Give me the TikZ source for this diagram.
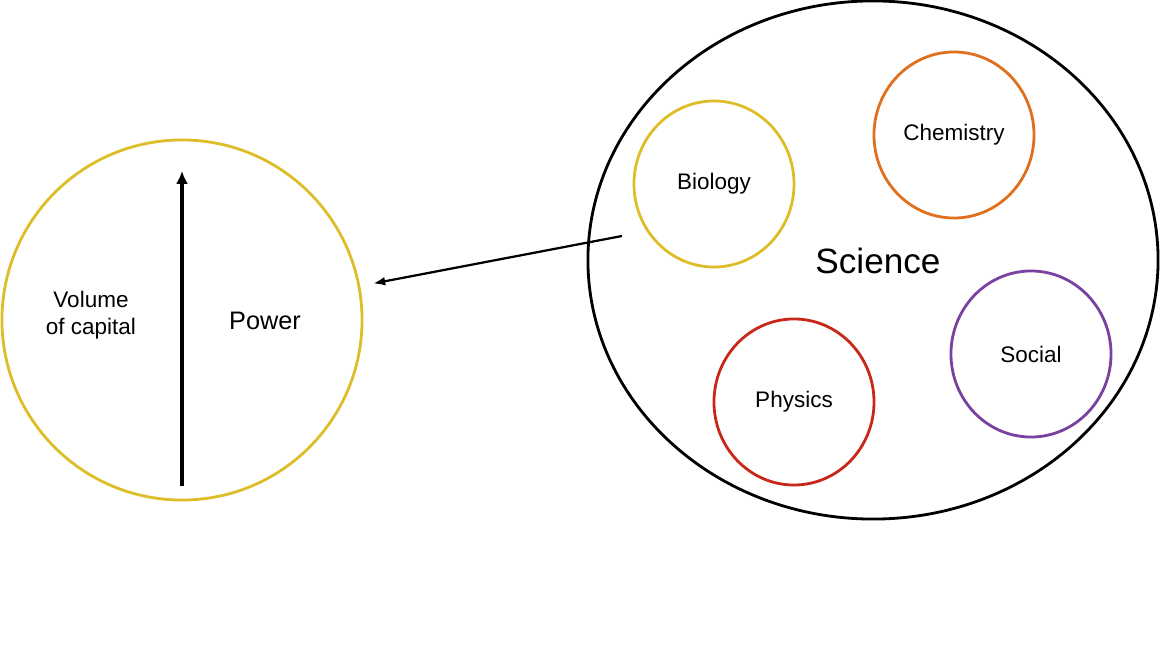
\documentclass[tikz,border=0pt]{standalone}
\usepackage{fontspec}
\setmainfont{Liberation Sans}
\usetikzlibrary{arrows.meta,shapes.geometric}
\definecolor{capyellow}{RGB}{221,189,42}
\definecolor{chemorange}{RGB}{224,112,30}
\definecolor{physred}{RGB}{200,40,26}
\definecolor{socpurple}{RGB}{122,66,160}

\begin{document}
\begin{tikzpicture}[
  x=0.025cm, y=-0.025cm,
  font=\fontsize{16}{19}\selectfont,
  field/.style={draw, ellipse, line width=2pt, minimum width=4cm, minimum height=4.15cm, inner sep=0pt},
  ar/.style={-{Latex[length=3mm,width=2.2mm]}, line width=1.6pt},
  axis/.style={-{Latex[length=3.2mm,width=3mm]}, line width=3pt}
]
\useasboundingbox (0,0) rectangle (1160,648);

\node[draw=capyellow, circle, line width=2pt, minimum size=9cm, inner sep=0pt] (cap) at (182,320) {};
\node[draw, ellipse, line width=2pt, minimum width=14.25cm, minimum height=12.95cm,
      inner sep=0pt, font=\fontsize{25}{30}\selectfont] (sci) at (873,260) {};
\node[font=\fontsize{25}{30}\selectfont] (scil) at (878,261) {Science};

\node[field, draw=capyellow]  (bio)  at (714,184) {Biology};
\node[field, draw=chemorange] (chem) at (954,135) {Chemistry};
\node[field, draw=socpurple]  (soc)  at (1031,354) {Social};
\node[field, draw=physred]    (phys) at (794,402) {Physics};

\node[align=center] (vol) at (91,315) {Volume\\of capital};
\node[font=\fontsize{18}{22}\selectfont] (pow) at (265,321) {Power};

\coordinate (axbot) at (182,486);
\coordinate (axtop) at (182,171);
\draw[axis] (axbot) -- (axtop);

\coordinate (link) at (622,236);
\draw[ar, shorten >=0.33cm] (link) -- (cap);
\end{tikzpicture}
\end{document}
